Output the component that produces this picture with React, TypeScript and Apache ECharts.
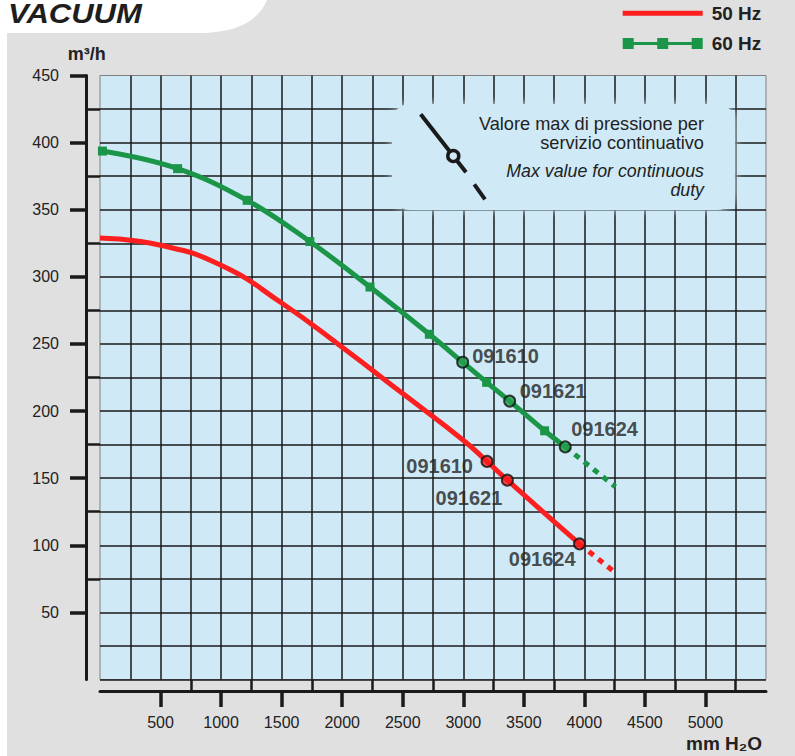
import React, { useEffect, useRef } from "react";
import * as echarts from "echarts";

// ---------- data ----------
const chartTitle = "VACUUM";
const yUnit = "m³/h";
const xUnit = "mm H₂O";
const seriesNames = ["50 Hz", "60 Hz"];
const modelNames = ["091610", "091621", "091624"];

const xTickLabels = [500, 1000, 1500, 2000, 2500, 3000, 3500, 4000, 4500, 5000];
const xMinorTicks = [750, 1250, 1750, 2250, 2750, 3250, 3750, 4250, 4750, 5250];
const yTickLabels = [50, 100, 150, 200, 250, 300, 350, 400, 450];
const yMinorTicks = [75, 125, 175, 225, 275, 325, 375, 425];

// 50 Hz curve (mm H2O, m3/h)
const red50Curve = [
  [0, 329], [500, 323.5], [1000, 308.6], [1500, 280.5], [2000, 247.5],
  [2500, 213], [3000, 178.3], [3196, 162.5], [3364, 148.5], [3960, 101],
];
const red50Extension = [[3960, 101], [4236, 81]];
const red50ModelPoints = [[3196, 162.5], [3364, 148.5], [3960, 101]];

// 60 Hz curve
const green60Markers = [
  [20, 393.7], [641, 380.6], [1215, 357], [1733, 326.3], [2230, 292.4],
  [2720, 257.2], [3193, 221.4], [3672, 185.3],
];
const green60ModelPoints = [[2995, 236.4], [3383, 207.4], [3842, 173.3]];
const green60Extension = [[3842, 173.3], [4257, 143.6]];

const noteText = "Valore max di pressione per\nservizio continuativo";
const noteTextItalic = "Max value for continuous\nduty";

// ---------- styles / layout ----------
const FONT = "'Liberation Sans', Arial, Helvetica, sans-serif";
const RED = "#fb1f1f";
const GREEN = "#1b9548";
const TEXT = "#222222";
const PLOT_BG = "#cfeaf6";

const greenLabelOffsets = [[9.5, -6.5], [10, -10], [6, -17.5]];
const redLabelOffsets = [[-14, 4.5], [-5, 18], [-4, 15.5]];

echarts.graphic.registerShape(
  "pageTab",
  echarts.graphic.extendPath("M0 0 H267 C258 22 235 33 200 33 H7 V756 H0 Z", {})
);

export default function App() {
  const ref = useRef<HTMLDivElement>(null);

  useEffect(() => {
    if (!ref.current) return;
    const chart = echarts.init(ref.current, null, { renderer: "svg" });

    const greenLineData = [
      ...green60Markers.map((p) => ({ value: p, symbol: "rect" })),
      ...green60ModelPoints.map((p) => ({ value: p, symbol: "none" })),
    ].sort((a, b) => a.value[0] - b.value[0]);

    const modelData = (pts: number[][], offsets: number[][]) =>
      pts.map((p, i) => ({
        name: modelNames[i],
        value: p,
        label: { offset: offsets[i] },
      }));

    const baseX = { type: "value", min: 0, max: 5500, gridIndex: 0 };
    const baseY = { type: "value", min: 0, max: 450, gridIndex: 0 };
    const plain = (v: number) => String(v);

    const legendText = {
      fontSize: 19,
      fontWeight: "bold",
      color: TEXT,
      lineHeight: 20,
      padding: [0, 0, 0, 4],
    };

    const option: any = {
      animation: false,
      backgroundColor: "#e0e0e0",
      textStyle: { fontFamily: FONT },
      grid: {
        left: 100,
        right: 29,
        top: 75.5,
        bottom: 76.5,
        show: true,
        backgroundColor: PLOT_BG,
        borderColor: "#808080",
        borderWidth: 1,
      },
      legend: [
        {
          data: [{ name: seriesNames[0], icon: "path://M0 0H80V5H0Z" }],
          left: 622.7,
          top: 3.3,
          padding: 0,
          itemWidth: 80,
          itemHeight: 5,
          selectedMode: false,
          itemStyle: { borderWidth: 0 },
          textStyle: legendText,
        },
        {
          data: [
            {
              name: seriesNames[1],
              icon: "path://M0 0H11V4H34.5V0H45.5V4H69V0H80V11H69V7H45.5V11H34.5V7H11V11H0Z",
            },
          ],
          left: 622.7,
          top: 33.5,
          padding: 0,
          itemWidth: 80,
          itemHeight: 11,
          selectedMode: false,
          itemStyle: { borderWidth: 0 },
          textStyle: legendText,
        },
      ],
      xAxis: [
        {
          ...baseX,
          interval: 250,
          axisLine: { show: false },
          axisTick: { show: false },
          axisLabel: { show: false },
          splitLine: {
            show: true,
            showMinLine: false,
            showMaxLine: false,
            lineStyle: { color: "#1a1a1a", width: 1.5 },
          },
        },
        {
          ...baseX,
          position: "bottom",
          offset: 11.5,
          axisLine: { show: true, onZero: false, lineStyle: { color: "#1a1a1a", width: 3 } },
          axisTick: {
            show: true,
            customValues: xTickLabels,
            length: 16,
            lineStyle: { color: "#1a1a1a", width: 3.5 },
          },
          axisLabel: {
            show: true,
            customValues: xTickLabels,
            formatter: plain,
            margin: 23,
            fontSize: 16,
            color: TEXT,
            fontFamily: FONT,
          },
          splitLine: { show: false },
        },
        {
          ...baseX,
          position: "bottom",
          offset: 11.5,
          axisLine: { show: false },
          axisTick: {
            show: true,
            customValues: xMinorTicks,
            length: 12,
            lineStyle: { color: "#1a1a1a", width: 2.5 },
          },
          axisLabel: { show: false },
          splitLine: { show: false },
        },
      ],
      yAxis: [
        {
          ...baseY,
          interval: 25,
          axisLine: { show: false },
          axisTick: { show: false },
          axisLabel: { show: false },
          splitLine: {
            show: true,
            showMinLine: true,
            showMaxLine: false,
            lineStyle: { color: "#1a1a1a", width: 1.5 },
          },
        },
        {
          ...baseY,
          position: "left",
          offset: 14,
          axisLine: { show: true, onZero: false, lineStyle: { color: "#1a1a1a", width: 3 } },
          axisTick: {
            show: true,
            customValues: yTickLabels,
            length: 16,
            lineStyle: { color: "#1a1a1a", width: 3.5 },
          },
          axisLabel: {
            show: true,
            customValues: yTickLabels,
            formatter: plain,
            margin: 27,
            fontSize: 16,
            color: TEXT,
            fontFamily: FONT,
          },
          splitLine: { show: false },
        },
        {
          ...baseY,
          position: "left",
          offset: 14,
          axisLine: { show: false },
          axisTick: {
            show: true,
            customValues: yMinorTicks,
            length: 12,
            lineStyle: { color: "#1a1a1a", width: 2.5 },
          },
          axisLabel: { show: false },
          splitLine: { show: false },
        },
      ],
      series: [
        {
          name: seriesNames[0],
          type: "line",
          data: red50Curve,
          smooth: 0.5,
          symbol: "none",
          color: RED,
          lineStyle: { color: RED, width: 5 },
          itemStyle: { color: RED },
          z: 3,
        },
        {
          name: "50 Hz ext",
          type: "line",
          data: red50Extension,
          symbol: "none",
          color: RED,
          lineStyle: { color: RED, width: 5, type: [6, 6], cap: "butt" },
          z: 3,
        },
        {
          name: seriesNames[1],
          type: "line",
          data: greenLineData,
          smooth: 0.4,
          symbolSize: 9,
          showAllSymbol: true,
          color: GREEN,
          lineStyle: { color: GREEN, width: 5 },
          itemStyle: { color: GREEN },
          z: 3,
        },
        {
          name: "60 Hz ext",
          type: "line",
          data: green60Extension,
          symbol: "none",
          color: GREEN,
          lineStyle: { color: GREEN, width: 5, type: [6, 6], cap: "butt" },
          z: 3,
        },
        {
          name: "60 Hz models",
          type: "scatter",
          data: modelData(green60ModelPoints, greenLabelOffsets),
          symbol: "circle",
          symbolSize: 11,
          itemStyle: { color: "#22a04c", borderColor: "#111", borderWidth: 2 },
          label: {
            show: true,
            formatter: "{b}",
            position: "inside",
            align: "left",
            verticalAlign: "middle",
            fontSize: 20,
            fontWeight: "bold",
            color: TEXT,
            fontFamily: FONT,
          },
          z: 5,
        },
        {
          name: "50 Hz models",
          type: "scatter",
          data: modelData(red50ModelPoints, redLabelOffsets),
          symbol: "circle",
          symbolSize: 11,
          itemStyle: { color: "#ff1a1a", borderColor: "#111", borderWidth: 2 },
          label: {
            show: true,
            formatter: "{b}",
            position: "inside",
            align: "right",
            verticalAlign: "middle",
            fontSize: 20,
            fontWeight: "bold",
            color: TEXT,
            fontFamily: FONT,
          },
          z: 5,
        },
      ],
      graphic: {
        elements: [
          { type: "pageTab", x: 0, y: 0, style: { fill: "#ffffff" }, z: 1 },
          {
            type: "text",
            x: 8,
            y: 14,
            z: 2,
            scaleX: 1.15,
            style: {
              text: chartTitle,
              fontSize: 27,
              fontWeight: "bold",
              fontStyle: "italic",
              fontFamily: FONT,
              fill: "#1e1e1e",
              align: "left",
              verticalAlign: "middle",
            },
          },
          {
            type: "text",
            x: 86.7,
            y: 54,
            z: 2,
            style: {
              text: yUnit,
              fontSize: 18,
              fontWeight: "bold",
              fontFamily: FONT,
              fill: TEXT,
              align: "center",
              verticalAlign: "middle",
            },
          },
          {
            type: "text",
            x: 762,
            y: 743,
            z: 2,
            style: {
              text: xUnit,
              fontSize: 19,
              fontWeight: "bold",
              fontFamily: FONT,
              fill: TEXT,
              align: "right",
              verticalAlign: "middle",
            },
          },
          {
            type: "rect",
            z: 20,
            shape: { x: 392, y: 104, width: 343, height: 106, r: 18 },
            style: { fill: PLOT_BG, shadowBlur: 8, shadowColor: PLOT_BG },
          },
          {
            type: "line",
            z: 21,
            shape: { x1: 420.7, y1: 114.3, x2: 466, y2: 172.3 },
            style: { stroke: "#1a1a1a", lineWidth: 4 },
          },
          {
            type: "line",
            z: 21,
            shape: { x1: 474.3, y1: 184.3, x2: 485, y2: 199.3 },
            style: { stroke: "#1a1a1a", lineWidth: 4 },
          },
          {
            type: "circle",
            z: 22,
            shape: { cx: 453.3, cy: 156, r: 5.5 },
            style: { fill: PLOT_BG, stroke: "#1a1a1a", lineWidth: 3.5 },
          },
          {
            type: "text",
            z: 22,
            x: 704,
            y: 133.6,
            style: {
              text: noteText,
              fontSize: 18.2,
              lineHeight: 18.6,
              fontFamily: FONT,
              fill: TEXT,
              align: "right",
              verticalAlign: "middle",
            },
          },
          {
            type: "text",
            z: 22,
            x: 704,
            y: 180.5,
            style: {
              text: noteTextItalic,
              fontSize: 17.8,
              lineHeight: 18.2,
              fontStyle: "italic",
              fontFamily: FONT,
              fill: TEXT,
              align: "right",
              verticalAlign: "middle",
            },
          },
        ],
      },
    };

    chart.setOption(option);
    return () => chart.dispose();
  }, []);

  return (
    <div
      ref={ref}
      style={{ position: "absolute", left: 0, top: 0, width: 795, height: 756 }}
    />
  );
}
